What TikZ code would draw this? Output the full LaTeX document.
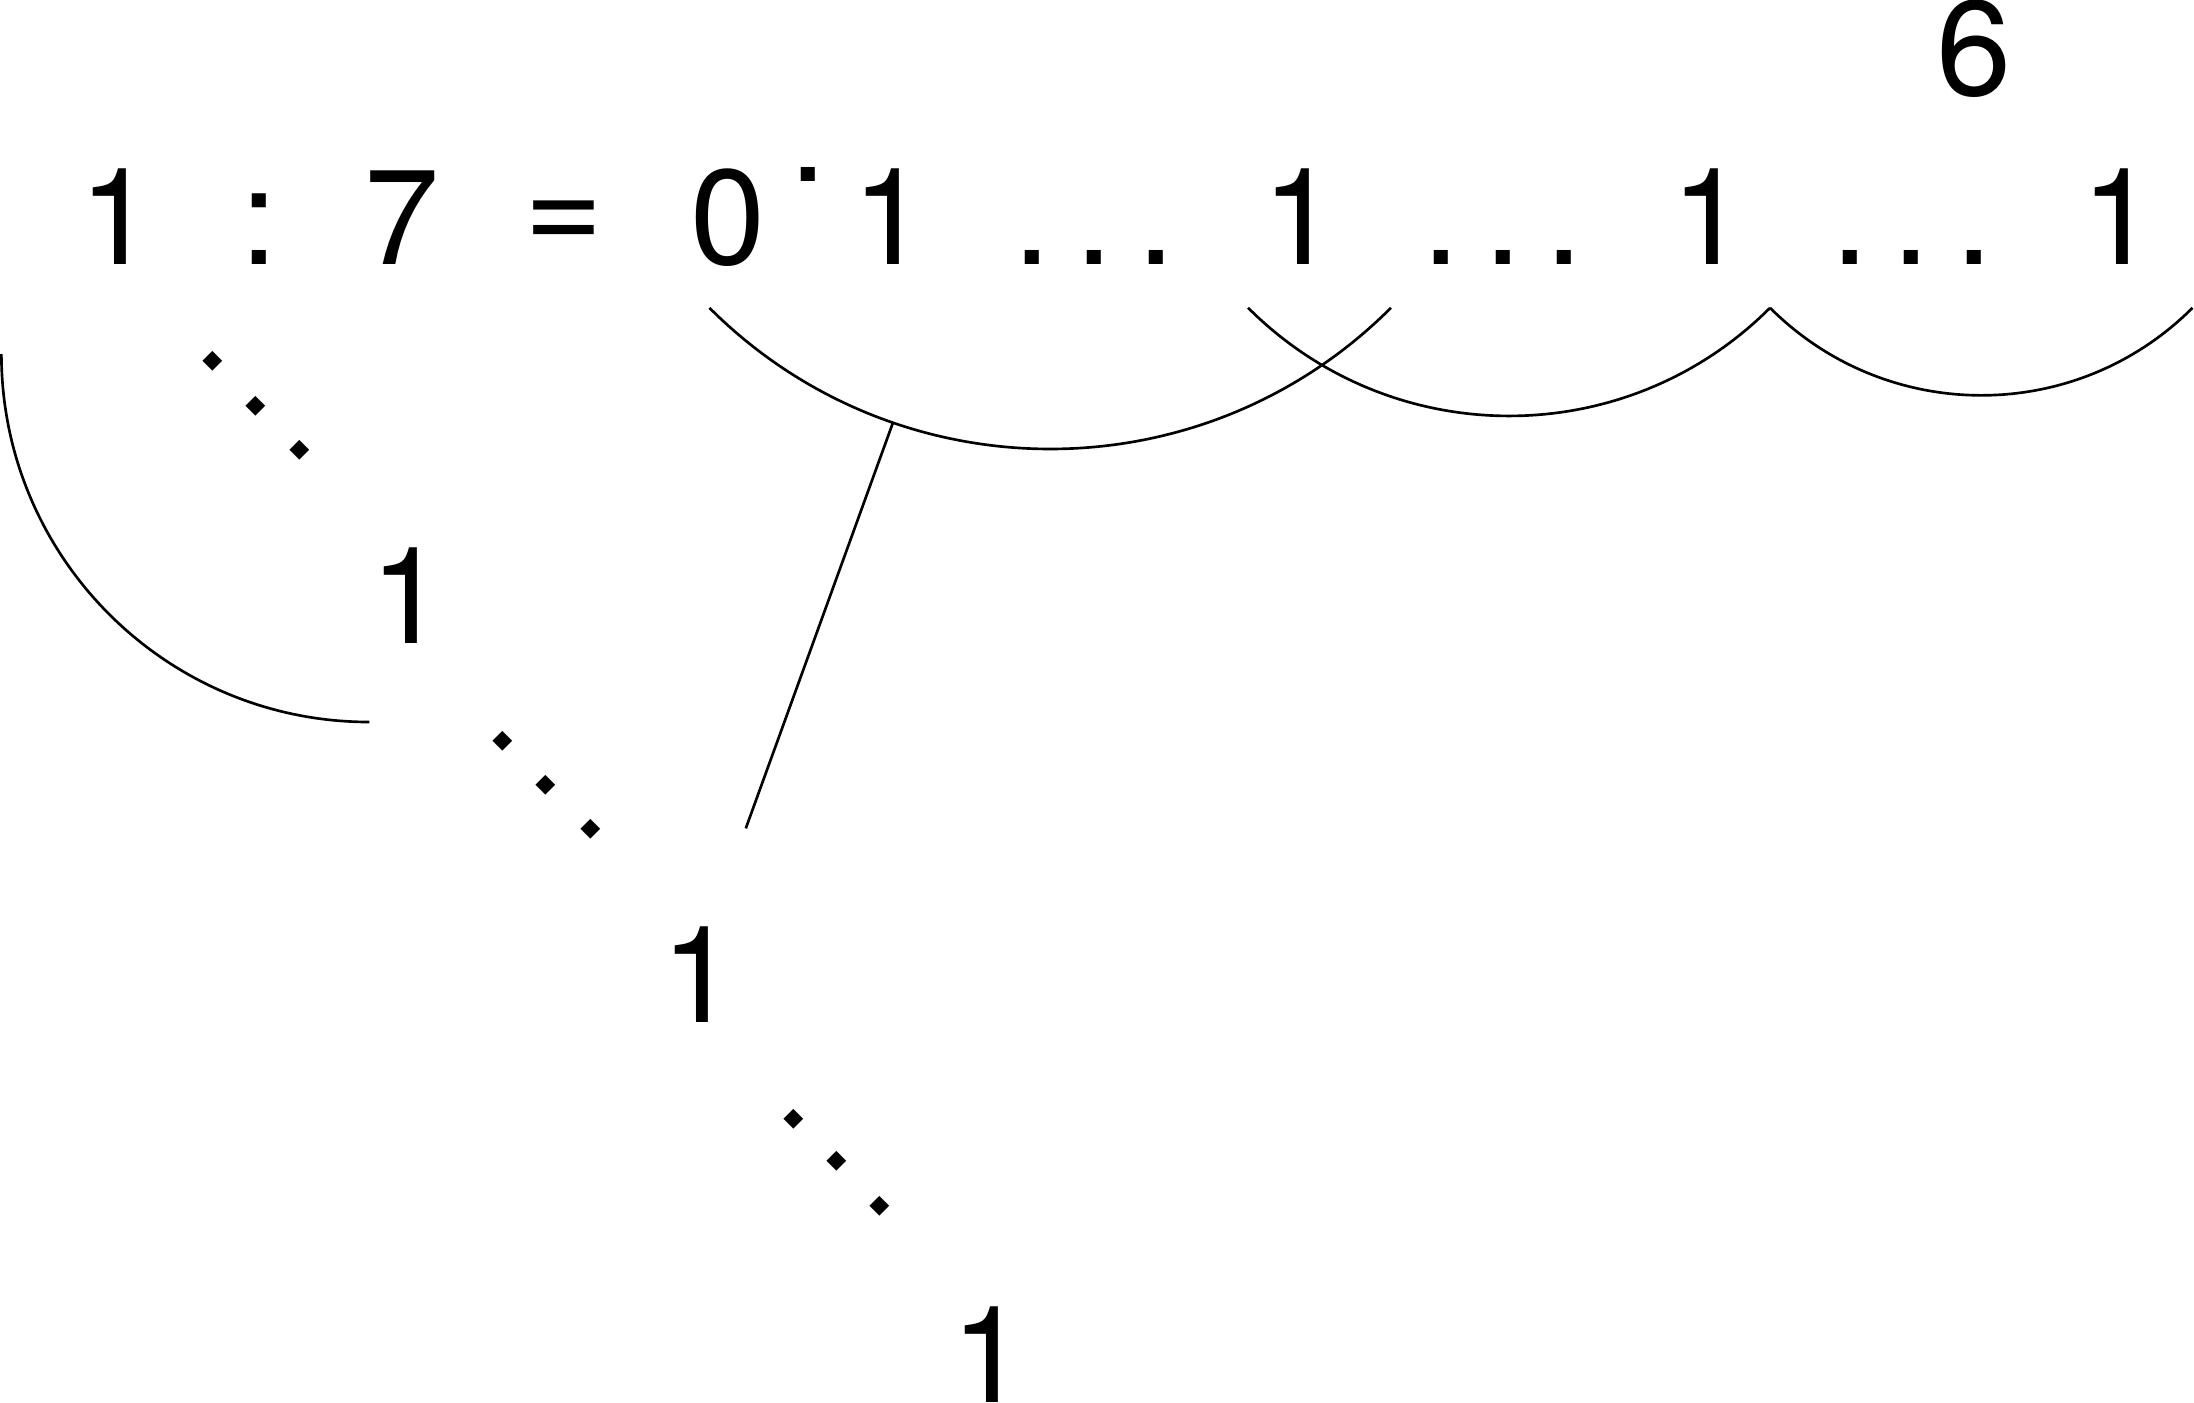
\documentclass[tikz,border=0pt]{standalone}
\usepackage{fontspec}
\setmainfont{TeX Gyre Heros}
\tikzset{
  dg/.style={font=\fontsize{96.5}{96.5}\selectfont, inner sep=0pt, anchor=base},
  dt/.style={font=\fontsize{96.5}{96.5}\selectfont, inner sep=0pt, anchor=center, rotate=45},
  crv/.style={line width=1.9pt}
}
\begin{document}
\begin{tikzpicture}[x=1pt,y=-1pt]
\useasboundingbox (0,0) rectangle (1568,1002);
% top row
\node[dg] (n1) at (84,189) {1};
\node[dg] (col) at (185,189) {:};
\node[dg] (n7) at (287,189) {7};
\node[dg] (eq) at (403,180) {=};
\node[dg] (n0) at (520,189) {0};
\node[dg] (rd) at (577.5,130) {.};
\node[dg] (d1) at (636,189) {1};
\node[dg] (h1a) at (738,189) {.};
\node[dg] (h1b) at (782,189) {.};
\node[dg] (h1c) at (826,189) {.};
\node[dg] (d2) at (929,189) {1};
\node[dg] (h2a) at (1030,189) {.};
\node[dg] (h2b) at (1074,189) {.};
\node[dg] (h2c) at (1118,189) {.};
\node[dg] (d3) at (1221.5,189) {1};
\node[dg] (h3a) at (1322,189) {.};
\node[dg] (h3b) at (1366,189) {.};
\node[dg] (h3c) at (1411,189) {.};
\node[dg] (d4) at (1514.5,189) {1};
\node[dg] (six) at (1411,68) {6};
% diagonal
\node[dt] (g1a) at (152,258) {.};
\node[dt] (g1b) at (183,290) {.};
\node[dt] (g1c) at (214,322) {.};
\node[dg] (e1) at (291.5,460) {1};
\node[dt] (g2a) at (359,530) {.};
\node[dt] (g2b) at (390,561) {.};
\node[dt] (g2c) at (422,593) {.};
\node[dg] (e2) at (499.5,731) {1};
\node[dt] (g3a) at (567,800) {.};
\node[dt] (g3b) at (598,830) {.};
\node[dt] (g3c) at (629,862) {.};
\node[dg] (e3) at (706.5,1002) {1};
% arcs
\coordinate (a0) at (1,253);
\coordinate (a1) at (507,220);
\coordinate (a2) at (892,220);
\coordinate (a3) at (1265,220);
\coordinate (p) at (638,302.5);
\coordinate (q) at (533,592);
\draw[crv] (a0) arc[start angle=180, end angle=270, radius=263pt];
\draw[crv] (a1) arc[start angle=225, end angle=315, radius=344.4pt];
\draw[crv] (a2) arc[start angle=225, end angle=315, radius=263.75pt];
\draw[crv] (a3) arc[start angle=225, end angle=315, radius=213.5pt];
\draw[crv] (p) -- (q);
\end{tikzpicture}
\end{document}
